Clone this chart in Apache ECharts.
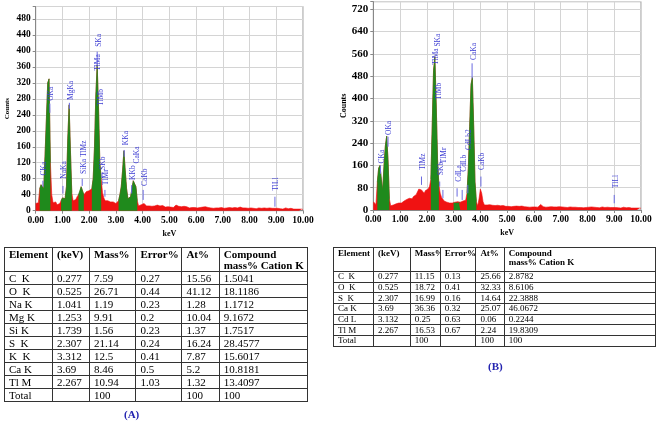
<!DOCTYPE html>
<html><head><meta charset="utf-8">
<script src="https://cdn.jsdelivr.net/npm/echarts@6/dist/echarts.min.js"></script>
<style>
html,body{margin:0;padding:0;background:#fff;}
#wrap{position:relative;width:660px;height:423px;overflow:hidden;}
#chart{position:absolute;left:0;top:0;width:660px;height:423px;}
.tbl{position:absolute;border-collapse:collapse;table-layout:fixed;font-family:'Liberation Serif',serif;color:#000;}
.tbl td{border:1px solid #333;padding:0 0 0 4px;white-space:nowrap;overflow:hidden;vertical-align:middle;line-height:1;}
.tbl tr.h td{font-weight:bold;vertical-align:top;padding-top:1px;}
.cap{position:absolute;font-family:'Liberation Serif',serif;font-weight:bold;color:#2323b0;font-size:11px;}
</style></head>
<body><div id="wrap"><div id="chart"></div></div>
<script>
// ---------- DATA ----------
const binStepKeV = 0.05;               // spectrum bin width (keV); bins start at 0.00
const xTicks = [0,1,2,3,4,5,6,7,8,9,10];

// Spectrum (A): counts per bin 0.00..10.00 keV
const countsA = [
 18,15,20,55,65,70,55,140,230,320,
 330,120,40,20,18,22,15,20,18,25,
 32,35,30,60,180,265,150,45,25,30,
 28,35,40,45,60,65,40,45,48,45,
 50,45,55,80,160,290,365,260,120,80,
 45,32,25,22,25,20,22,18,22,20,
 18,20,25,40,60,100,150,100,55,30,
 25,35,55,75,80,60,25,12,10,15,
 20,18,15,12,
 14,12,15,11,13,12,10,14,11,12,10,13,11,9,12,10,
 11,9,12,8,10,14,9,11,8,10,9,11,8,10,9,7,10,8,9,8,
 9,7,10,8,8,9,7,10,6,8,9,7,8,6,9,7,8,7,6,8,
 7,6,8,7,5,8,6,7,6,8,5,7,6,9,6,7,5,7,6,6,
 6,7,5,6,8,5,6,7,5,6,4,7,5,6,5,7,5,6,4,6,
 5,6,4,5,6,4,5,7,4,5,4,6,5,4,5,4,6,4,5,4,3
];
// Spectrum (B)
const countsB = [
 30,35,20,100,150,160,110,70,160,230,
 265,180,40,15,12,18,20,22,20,25,
 28,25,30,32,35,38,35,42,45,40,
 48,50,55,65,75,78,72,65,60,70,
 65,75,85,110,300,500,550,380,180,90,
 60,45,40,32,30,28,30,25,28,25,
 25,28,25,30,25,28,30,32,28,35,
 60,150,300,450,475,300,100,30,15,40,
 75,60,30,18,
 20,18,16,19,15,17,14,16,15,17,14,15,13,16,14,13,
 15,13,14,12,15,13,12,14,11,13,12,14,11,12,13,11,12,10,12,11,
 12,11,13,10,12,20,16,12,11,10,12,11,9,12,10,11,9,11,10,12,
 10,11,9,10,12,9,10,11,9,10,8,10,11,9,10,9,11,8,10,9,
 9,10,8,11,9,10,8,9,10,8,9,11,8,9,8,10,8,9,7,9,
 8,9,7,8,9,7,8,10,7,8,7,9,8,7,8,7,9,7,8,7,6
];
// keV ranges fitted as element peaks (drawn green)
const peakWindowsA = [[0.15,0.55],[0.95,1.35],[1.6,1.8],[2.1,2.45],[3.1,3.8]];
const peakWindowsB = [[0.15,0.6],[2.15,2.45],[3.0,3.25],[3.5,3.85]];

// peak markers: [label, keV, marker from (counts), marker to (counts), label start (counts)]
const markersA = [
 ['CKa',0.27,60,75,88],['OKa',0.53,245,268,275],['NaKa',1.02,43,62,80],
 ['MgKa',1.26,255,270,277],['SiKa TlMz',1.74,62,80,92],['SKa',2.30,360,398,410],
 ['TlMa',2.28,0,0,350],['TlMb',2.40,0,0,262],['SKb',2.48,82,95,102],
 ['TlMr',2.59,35,52,64],['KKa',3.31,135,152,164],['KKb',3.59,43,64,77],
 ['CaKa',3.74,0,0,118],['CaKb',4.02,27,52,62],['TlLl',8.95,10,35,50]
];
const markersB = [
 ['CKa',0.27,130,160,167],['OKa',0.55,227,263,269],['TlMz',1.80,90,120,143],
 ['TlMa',2.30,0,0,520],['SKa',2.36,0,0,586],['TlMb',2.40,0,0,395],
 ['SKb',2.48,84,102,125],['TlMr',2.60,42,72,167],['CdLa',3.13,48,78,101],
 ['CdLb',3.32,36,72,137],['CdLb2',3.53,60,90,215],['CaKa',3.69,472,526,538],
 ['CaKb',4.02,84,120,143],['TlLl',9.00,24,54,78]
];

const tableHeader = ['Element','(keV)','Mass%','Error%','At%','Compound<br>mass% Cation K'];
const tableA = [
 ['C&nbsp; K','0.277','7.59','0.27','15.56','1.5041'],
 ['O&nbsp; K','0.525','26.71','0.44','41.12','18.1186'],
 ['Na K','1.041','1.19','0.23','1.28','1.1712'],
 ['Mg K','1.253','9.91','0.2','10.04','9.1672'],
 ['Si K','1.739','1.56','0.23','1.37','1.7517'],
 ['S&nbsp; K','2.307','21.14','0.24','16.24','28.4577'],
 ['K&nbsp; K','3.312','12.5','0.41','7.87','15.6017'],
 ['Ca K','3.69','8.46','0.5','5.2','10.8181'],
 ['Tl M','2.267','10.94','1.03','1.32','13.4097'],
 ['Total','','100','','100','100']
];
const tableB = [
 ['C&nbsp; K','0.277','11.15','0.13','25.66','2.8782'],
 ['O&nbsp; K','0.525','18.72','0.41','32.33','8.6106'],
 ['S&nbsp; K','2.307','16.99','0.16','14.64','22.3888'],
 ['Ca K','3.69','36.36','0.32','25.07','46.0672'],
 ['Cd L','3.132','0.25','0.63','0.06','0.2244'],
 ['Tl M','2.267','16.53','0.67','2.24','19.8309'],
 ['Total','','100','','100','100']
];

// ---------- BUILD ----------
function pairs(counts){ return counts.map((c,i)=>[+(i*binStepKeV).toFixed(2), c]); }
function peakPairs(counts, wins){
  return counts.map((c,i)=>{ const k=+(i*binStepKeV).toFixed(2);
    const inW = wins.some(w=>k>=w[0]-1e-9 && k<=w[1]+1e-9);
    return [k, inW ? c : '-']; });
}
const RED='#f01212', GREEN='#1f8a1c', BLUE='#3a3ad2';
const serif='Liberation Serif';

function markerSeries(list, gi){
  return {
    type:'custom', xAxisIndex:gi, yAxisIndex:gi, z:10, clip:false,
    data:list.map(m=>[m[1],m[2],m[3],m[4]]),
    renderItem:(params, api)=>{
      const m = list[params.dataIndex];
      const x=api.value(0), lo=api.value(1), hi=api.value(2), tl=api.value(3);
      const ch=[];
      if(hi>lo){ const p0=api.coord([x,lo]), p1=api.coord([x,hi]);
        ch.push({type:'line',shape:{x1:p0[0],y1:p0[1],x2:p1[0],y2:p1[1]},style:{stroke:'#6a6ae0',lineWidth:1}}); }
      const pt=api.coord([x,tl]);
      ch.push({type:'text',x:pt[0]+1.5,y:pt[1],rotation:Math.PI/2,
        style:{text:m[0],fill:BLUE,font:'7.5px "Liberation Serif"',align:'left',verticalAlign:'middle'}});
      return {type:'group',children:ch};
    }
  };
}

function xAxisCfg(gi){
  return {type:'value',gridIndex:gi,min:xTicks[0],max:xTicks[xTicks.length-1],interval:1,
    name:'keV',nameLocation:'middle',nameGap:19,
    nameTextStyle:{fontFamily:serif,fontWeight:'bold',fontSize:8,color:'#000'},
    axisLine:{show:true,lineStyle:{color:'#888'}},
    axisTick:{show:true,length:3,lineStyle:{color:'#888'}},
    axisLabel:{formatter:v=>v.toFixed(2),fontFamily:serif,fontWeight:'bold',fontSize:9.5,color:'#000',margin:5},
    splitLine:{show:true,lineStyle:{color:'#d4d4d4',width:1}}};
}
function yAxisCfg(gi,max,interval,fs,gap,nfs){
  return {type:'value',gridIndex:gi,min:0,max:max,interval:interval,
    name:'Counts',nameLocation:'middle',nameGap:gap,
    nameTextStyle:{fontFamily:serif,fontWeight:'bold',fontSize:nfs,color:'#000'},
    axisLine:{show:true,lineStyle:{color:'#888'}},
    axisTick:{show:true,length:3,lineStyle:{color:'#888'}},
    axisLabel:{formatter:v=>(v%interval===0?String(v):''),fontFamily:serif,fontWeight:'bold',fontSize:fs,color:'#000',margin:5},
    splitLine:{show:true,lineStyle:{color:'#d4d4d4',width:1}}};
}
function areaSeries(data,color,gi,z){
  return {type:'line',xAxisIndex:gi,yAxisIndex:gi,data:data,symbol:'none',z:z,
    lineStyle:{color:color,width:0.6},areaStyle:{color:color,opacity:1},
    connectNulls:false,silent:true,animation:false};
}

const chart = echarts.init(document.getElementById('chart'),null,{renderer:'canvas'});
chart.setOption({
  animation:false,
  grid:[
    {left:35.7,top:6.5,width:267.3,height:204.2,show:true,borderColor:'#999',borderWidth:1,backgroundColor:'#fff'},
    {left:373.3,top:1.7,width:267.7,height:208.3,show:true,borderColor:'#999',borderWidth:1,backgroundColor:'#fff'}
  ],
  xAxis:[xAxisCfg(0),xAxisCfg(1)],
  yAxis:[yAxisCfg(0,511,40,9.5,25,7),yAxisCfg(1,747,80,11,25,8)],
  series:[
    areaSeries(pairs(countsA),RED,0,2),
    areaSeries(peakPairs(countsA,peakWindowsA),GREEN,0,3),
    markerSeries(markersA,0),
    areaSeries(pairs(countsB),RED,1,2),
    areaSeries(peakPairs(countsB,peakWindowsB),GREEN,1,3),
    markerSeries(markersB,1)
  ]
});

function makeTable(rows, left, top, widths, fontSize, headH, rowH){
  const t=document.createElement('table'); t.className='tbl';
  t.style.left=left+'px'; t.style.top=top+'px'; t.style.fontSize=fontSize+'px';
  t.style.width=widths.reduce((a,b)=>a+b,0)+'px';
  const cg=document.createElement('colgroup');
  widths.forEach(w=>{const c=document.createElement('col');c.style.width=w+'px';cg.appendChild(c);});
  t.appendChild(cg);
  const h=document.createElement('tr'); h.className='h'; h.style.height=headH+'px';
  tableHeader.forEach(s=>{const td=document.createElement('td');td.innerHTML=s;h.appendChild(td);});
  t.appendChild(h);
  rows.forEach(r=>{const tr=document.createElement('tr');tr.style.height=rowH+'px';
    r.forEach(s=>{const td=document.createElement('td');td.innerHTML=s;tr.appendChild(td);});t.appendChild(tr);});
  document.getElementById('wrap').appendChild(t);
}
makeTable(tableA,4,247,[48,37,46.4,46,37.3,88.3],11,24,13);
makeTable(tableB,333,247,[40,36.7,30,35.7,28.3,151],9,24,10.7);

function cap(txt,x,y){const d=document.createElement('div');d.className='cap';d.textContent=txt;
  d.style.left=x+'px';d.style.top=y+'px';document.getElementById('wrap').appendChild(d);}
cap('(A)',124,408);
cap('(B)',488,360);
</script></body></html>
